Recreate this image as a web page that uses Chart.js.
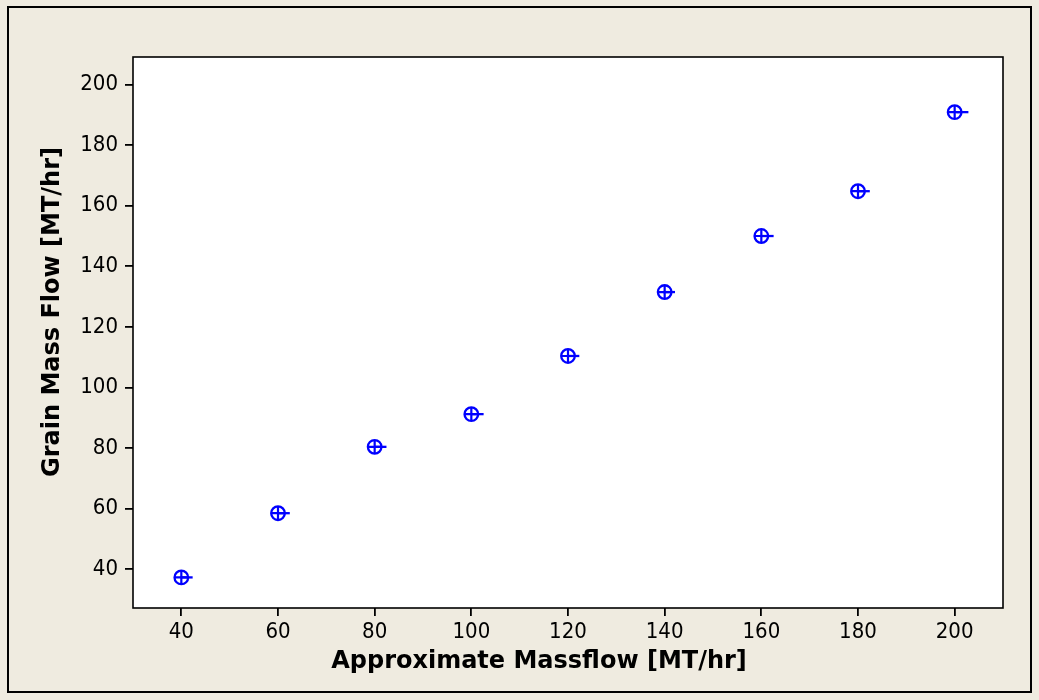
<!DOCTYPE html>
<html>
<head>
<meta charset="utf-8">
<script src="https://cdn.jsdelivr.net/npm/chart.js@4.4.1/dist/chart.umd.min.js"></script>
<style>
  html, body { margin: 0; padding: 0; background: #EFEBE0; width: 1039px; height: 700px; overflow: hidden; }
  #wrap { position: absolute; left: 0; top: 0; width: 1039px; height: 700px; }
  #frame { position: absolute; left: 7px; top: 6px; width: 1025px; height: 687px; border: 2px solid #000; box-sizing: border-box; pointer-events: none; }
</style>
</head>
<body>
<div id="wrap"><canvas id="c" width="1039" height="700"></canvas></div>
<div id="frame"></div>
<script>
// ---- data ----
const approxMassflow = [40, 60, 80, 100, 120, 140, 160, 180, 200];
const grainMassFlow  = [37.3, 58.5, 80.4, 91.2, 110.4, 131.5, 150.0, 164.8, 190.9];
const dashMassflow   = [41.1, 61.2, 81.2, 101.3, 121.1, 140.9, 161.3, 181.2, 201.6];
const xTickValues = [40, 60, 80, 100, 120, 140, 160, 180, 200];
const yTickValues = [40, 60, 80, 100, 120, 140, 160, 180, 200];
const xTitle = 'Approximate Massflow [MT/hr]';
const yTitle = 'Grain Mass Flow [MT/hr]';

const BLUE = '#0000FF';
const tickFont = { family: "'DejaVu Sans Condensed', 'Liberation Sans', sans-serif", size: 22, lineHeight: 1.2 };
const TITLE_FONT = "bold 24px 'DejaVu Sans', sans-serif";

const pts = (xs, ys) => xs.map((x, i) => ({ x: x, y: ys[i] }));

const plotBox = {
  id: 'plotBox',
  beforeDatasetsDraw(chart) {
    const a = chart.chartArea, ctx = chart.ctx;
    ctx.save();
    ctx.fillStyle = '#FFFFFF';
    ctx.fillRect(a.left, a.top, a.right - a.left, a.bottom - a.top);
    ctx.restore();
  },
  afterDatasetsDraw(chart) {
    const a = chart.chartArea, ctx = chart.ctx;
    ctx.save();
    ctx.strokeStyle = '#000';
    ctx.lineWidth = 1.6;
    ctx.strokeRect(a.left, a.top, a.right - a.left, a.bottom - a.top);
    ctx.restore();
  },
  afterDraw(chart) {
    const ctx = chart.ctx;
    ctx.save();
    ctx.fillStyle = '#000';
    ctx.font = TITLE_FONT;
    ctx.textAlign = 'center';
    ctx.textBaseline = 'middle';
    ctx.fillText(xTitle, 539, 662);
    ctx.translate(53, 312);
    ctx.rotate(-Math.PI / 2);
    ctx.fillText(yTitle, 0, 0);
    ctx.restore();
  }
};

new Chart(document.getElementById('c'), {
  type: 'scatter',
  data: {
    datasets: [
      { label: 'dash', data: pts(dashMassflow, grainMassFlow), pointStyle: 'line', pointRadius: 6, pointBorderWidth: 2.3, borderColor: BLUE, backgroundColor: BLUE },
      { label: 'circle', data: pts(approxMassflow, grainMassFlow), pointStyle: 'circle', pointRadius: 6.8, pointBorderWidth: 2.3, borderColor: BLUE, backgroundColor: 'rgba(0,0,0,0)' },
      { label: 'cross', data: pts(approxMassflow, grainMassFlow), pointStyle: 'cross', pointRadius: 6.8, pointBorderWidth: 2.2, borderColor: BLUE, backgroundColor: BLUE }
    ]
  },
  options: {
    responsive: false,
    animation: false,
    events: [],
    layout: { padding: { top: 57, right: 36, left: 0, bottom: 0 } },
    plugins: { legend: { display: false }, tooltip: { enabled: false } },
    scales: {
      x: {
        type: 'linear', min: 30, max: 210,
        afterBuildTicks: s => { s.ticks = xTickValues.map(v => ({ value: v })); },
        afterFit: s => { s.height = 92; },
        border: { display: false },
        grid: { drawOnChartArea: false, drawTicks: true, tickLength: 8, color: '#000', lineWidth: 1.8 },
        ticks: { color: '#000', font: tickFont, padding: 3, maxRotation: 0, autoSkip: false },
        title: { display: false }
      },
      y: {
        type: 'linear', min: 27.2, max: 209.1,
        afterBuildTicks: s => { s.ticks = yTickValues.map(v => ({ value: v })); },
        afterFit: s => { s.width = 133; },
        border: { display: false },
        grid: { drawOnChartArea: false, drawTicks: true, tickLength: 8, color: '#000', lineWidth: 1.8 },
        ticks: { color: '#000', font: tickFont, padding: 7, autoSkip: false },
        title: { display: false }
      }
    }
  },
  plugins: [plotBox]
});
</script>
</body>
</html>
